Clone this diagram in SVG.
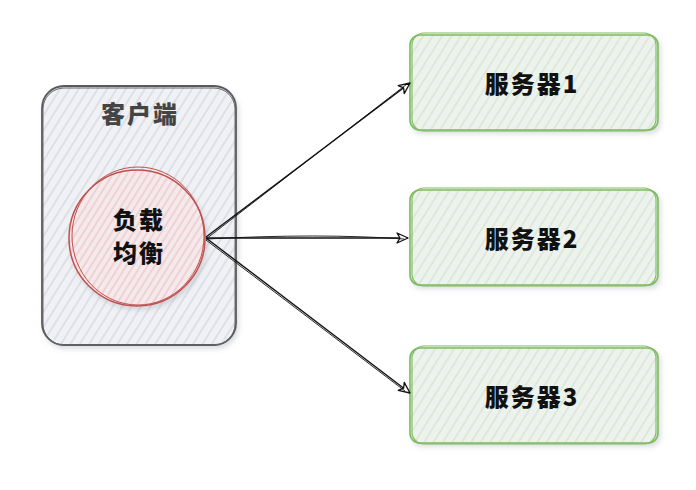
<svg xmlns="http://www.w3.org/2000/svg" width="696" height="490" viewBox="0 0 696 490">
<defs>
<pattern id="hg" width="8" height="8" patternUnits="userSpaceOnUse" patternTransform="rotate(-58)">
<rect width="8" height="8" fill="#f0f1f4"/>
<line x1="0" y1="2" x2="8" y2="2" stroke="#d9dce3" stroke-width="1.6"/>
</pattern>
<pattern id="hr" width="6" height="6" patternUnits="userSpaceOnUse" patternTransform="rotate(-58)">
<rect width="6" height="6" fill="#f4e9eb"/>
<line x1="0" y1="2" x2="6" y2="2" stroke="#eec5c9" stroke-width="1.3"/>
</pattern>
<pattern id="hgr" width="8" height="8" patternUnits="userSpaceOnUse" patternTransform="rotate(-58)">
<rect width="8" height="8" fill="#eef2ee"/>
<line x1="0" y1="2" x2="8" y2="2" stroke="#d6e7d3" stroke-width="1.5"/>
</pattern>
<filter id="sh" x="-10%" y="-10%" width="130%" height="130%">
<feDropShadow dx="2" dy="3" stdDeviation="2.5" flood-color="#8890a0" flood-opacity="0.3"/>
</filter>
<marker id="ah" markerWidth="14" markerHeight="12" refX="12" refY="6" orient="auto" markerUnits="userSpaceOnUse">
<path d="M1,1 L12,6 L1,11 L4,6 Z" fill="#fff" stroke="#111" stroke-width="1.3" stroke-linejoin="round"/>
</marker>
<style>
.t{font-family:"Noto Sans CJK SC","Liberation Sans",sans-serif;font-weight:900;font-size:24px;letter-spacing:2px;text-anchor:middle;fill:#111}
.srv rect{fill:url(#hgr);stroke:#7dbb5e;stroke-width:1.6}
.srv .o{fill:none;stroke:#7dbb5e;stroke-width:1.1}
.c{fill:none;stroke:#111;stroke-width:1.4}
</style>
</defs>
<rect width="696" height="490" fill="#fff"/>
<g id="client">
<rect x="42" y="86" width="194" height="259" rx="22" fill="url(#hg)" stroke="#5a5a5a" stroke-width="1.8" filter="url(#sh)"/>
<rect x="43" y="88" width="192" height="257" rx="21" fill="none" stroke="#666" stroke-width="1"/>
<text class="t" x="140" y="123" style="fill:#444">客户端</text>
</g>
<g id="lb">
<circle cx="137" cy="238" r="68" fill="url(#hr)" stroke="#c0504d" stroke-width="1.5" filter="url(#sh)"/>
<ellipse cx="138" cy="236" rx="66" ry="69" fill="none" stroke="#c0504d" stroke-width="1"/>
<text class="t" x="139" y="229">负载</text>
<text class="t" x="139" y="262">均衡</text>
</g>
<g id="s1" class="srv">
<rect x="410" y="35" width="248" height="95" rx="10" filter="url(#sh)"/>
<rect class="o" x="412" y="33" width="244" height="98" rx="12"/>
<text class="t" x="532" y="93">服务器1</text>
</g>
<g id="s2" class="srv">
<rect x="410" y="190" width="248" height="95" rx="10" filter="url(#sh)"/>
<rect class="o" x="412" y="188" width="244" height="98" rx="12"/>
<text class="t" x="532" y="248">服务器2</text>
</g>
<g id="s3" class="srv">
<rect x="410" y="348" width="248" height="95" rx="10" filter="url(#sh)"/>
<rect class="o" x="412" y="346" width="244" height="98" rx="12"/>
<text class="t" x="532" y="406">服务器3</text>
</g>
<g id="connectors">
<path class="c" d="M206,237 L410,83" marker-end="url(#ah)"/>
<path class="c" d="M206,239 L407,84" style="stroke-width:0.9"/>
<path class="c" d="M206,238 L408,238" marker-end="url(#ah)"/>
<path class="c" d="M206,239 Q320,233 404,239" style="stroke-width:0.9"/>
<path class="c" d="M206,238 L410,393" marker-end="url(#ah)"/>
<path class="c" d="M206,240 L405,391" style="stroke-width:0.9"/>
</g>
</svg>
